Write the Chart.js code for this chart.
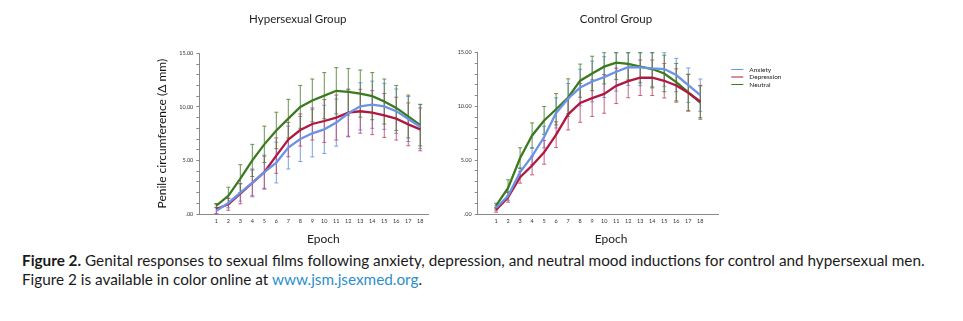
<!DOCTYPE html>
<html>
<head>
<meta charset="utf-8">
<title>Figure 2</title>
<script src="https://cdn.jsdelivr.net/npm/chart.js"></script>
<style>
  body { margin: 0; background: #fff; }
  #fig { position: relative; width: 963px; height: 321px; overflow: hidden; font-family: Lato, sans-serif; }
  #fig canvas { position: absolute; top: 0; }
  #chartHyper { left: 150px; }
  #chartControl { left: 440px; }
  .cap { position: absolute; left: 22px; font-size: 15.3px; line-height: 18px; white-space: nowrap; color: #1a1a1a; }
  .cap b { font-weight: 700; }
  .cap a { color: #2b8fcc; text-decoration: none; }
</style>
</head>
<body>
<div id="fig">
  <canvas id="chartHyper" width="290" height="250"></canvas>
  <canvas id="chartControl" width="352" height="250"></canvas>
  <div class="cap" style="top:251px"><b>Figure 2.</b> Genital responses to sexual films following anxiety, depression, and neutral mood inductions for control and hypersexual men.</div>
  <div class="cap" style="top:270px">Figure 2 is available in color online at <a href="#">www.jsm.jsexmed.org</a>.</div>
</div>
<script>
  // epochs
  var epochs = [1, 2, 3, 4, 5, 6, 7, 8, 9, 10, 11, 12, 13, 14, 15, 16, 17, 18];
  var yTickLabels = { 0: ".00", 5: "5.00", 10: "10.00", 15: "15.00" };

  // hypersexual group (mean and error bar half-width)
  var hyperAnxiety = [0.31, 1.03, 2.0, 2.9, 3.9, 4.8, 6.2, 7.0, 7.53, 7.9, 8.53, 9.4, 10.05, 10.2, 10.05, 9.6, 8.87, 8.15];
  var hyperAnxietyErr = [0.3, 0.45, 0.8, 1.3, 1.6, 1.9, 2.0, 2.1, 2.2, 2.25, 2.2, 2.2, 2.2, 2.2, 2.15, 2.07, 2.1, 2.05];
  var hyperDepression = [0.47, 0.9, 1.9, 2.9, 3.9, 5.45, 6.94, 7.84, 8.4, 8.68, 9.0, 9.46, 9.59, 9.46, 9.2, 8.9, 8.37, 7.9];
  var hyperDepressionErr = [0.45, 0.55, 0.95, 1.2, 1.5, 1.65, 1.6, 1.5, 1.5, 2.0, 2.1, 2.2, 2.05, 2.05, 2.05, 2.0, 2.0, 2.0];
  var hyperNeutral = [0.78, 1.7, 3.3, 5.0, 6.5, 7.8, 8.9, 10.0, 10.6, 11.05, 11.5, 11.4, 11.24, 11.0, 10.5, 9.9, 9.1, 8.3];
  var hyperNeutralErr = [0.2, 0.8, 1.3, 1.5, 1.7, 1.7, 1.8, 2.0, 2.0, 2.15, 2.16, 2.17, 2.2, 2.2, 2.1, 2.1, 2.0, 1.94];

  // control group
  var ctrlAnxiety = [0.56, 1.68, 3.89, 5.38, 7.16, 9.4, 10.74, 11.76, 12.32, 12.73, 13.23, 13.66, 13.63, 13.54, 13.48, 12.92, 11.98, 11.05];
  var ctrlAnxietyErr = [0.2, 0.4, 0.4, 0.78, 1.0, 1.4, 1.4, 1.7, 1.9, 1.9, 1.8, 1.7, 1.7, 1.7, 1.6, 1.55, 1.6, 1.5];
  var ctrlDepression = [0.37, 1.55, 3.42, 4.51, 5.73, 7.38, 9.27, 10.33, 10.77, 11.17, 11.92, 12.36, 12.67, 12.67, 12.39, 11.95, 11.27, 10.46];
  var ctrlDepressionErr = [0.2, 0.45, 0.55, 0.87, 1.1, 1.2, 1.45, 1.8, 1.7, 1.8, 1.65, 1.55, 1.65, 1.65, 1.6, 1.55, 1.7, 1.5];
  var ctrlNeutral = [0.78, 2.43, 5.2, 7.3, 8.7, 9.74, 10.83, 12.4, 13.07, 13.7, 14.07, 13.97, 13.7, 13.48, 13.07, 12.26, 11.3, 10.36];
  var ctrlNeutralErr = [0.22, 0.75, 0.96, 1.17, 1.3, 1.46, 1.74, 1.54, 1.6, 1.6, 1.57, 1.5, 1.5, 1.75, 1.7, 1.74, 1.7, 1.55];

  var colors = {
    Anxiety: { line: "#6a93e6", err: "rgba(110,150,230,0.9)" },
    Depression: { line: "#b01842", err: "rgba(195,70,110,0.85)" },
    Neutral: { line: "#3b7a1e", err: "rgba(80,130,50,0.85)" }
  };

  function serie(label, vals, errs) {
    return {
      label: label,
      data: epochs.map(function (e, i) { return { x: e, y: vals[i] }; }),
      errors: errs,
      borderColor: colors[label].line,
      backgroundColor: colors[label].line,
      errorColor: colors[label].err,
      borderWidth: 2.3,
      pointRadius: 0,
      tension: 0
    };
  }

  // error bars, drawn through the chart scales
  var errorBars = {
    id: "errorBars",
    beforeDatasetsDraw: function (chart) {
      var ctx = chart.ctx, xs = chart.scales.x, ys = chart.scales.y;
      ctx.save();
      ctx.lineWidth = 1;
      chart.data.datasets.forEach(function (ds) {
        ctx.strokeStyle = ds.errorColor;
        ds.data.forEach(function (p, i) {
          var e = ds.errors[i];
          var x = xs.getPixelForValue(p.x);
          var y1 = ys.getPixelForValue(Math.min(p.y + e, ys.max));
          var y2 = ys.getPixelForValue(Math.max(p.y - e, ys.min));
          ctx.beginPath();
          ctx.moveTo(x, y1); ctx.lineTo(x, y2);
          ctx.moveTo(x - 2, y1); ctx.lineTo(x + 2, y1);
          ctx.moveTo(x - 2, y2); ctx.lineTo(x + 2, y2);
          ctx.stroke();
        });
      });
      ctx.restore();
    }
  };

  // group title, x axis title and (optionally) legend
  var extraText = {
    id: "extraText",
    afterDraw: function (chart, args, opts) {
      var ctx = chart.ctx, a = chart.chartArea;
      var mid = (a.left + a.right) / 2;
      ctx.save();
      ctx.fillStyle = "#222";
      ctx.textAlign = "center";
      ctx.textBaseline = "middle";
      ctx.font = "11.5px Lato";
      ctx.fillText(opts.title, mid + opts.titleShift, 19);
      ctx.font = "12px Lato";
      ctx.fillText("Epoch", mid + opts.epochShift, a.bottom + 25);
      if (opts.legend) {
        ctx.textAlign = "left";
        ctx.font = "6.5px Lato";
        chart.data.datasets.forEach(function (ds, i) {
          var y = 69.5 + i * 7.5;
          ctx.strokeStyle = ds.borderColor;
          ctx.lineWidth = 1;
          ctx.beginPath();
          ctx.moveTo(a.right + 13, y); ctx.lineTo(a.right + 25, y);
          ctx.stroke();
          ctx.fillText(ds.label, a.right + 31, y);
        });
      }
      ctx.restore();
    }
  };

  function makeChart(id, sets, xMin, xMax, yWidth, pad, yTitle, textOpts) {
    return new Chart(document.getElementById(id), {
      type: "line",
      data: { datasets: sets },
      plugins: [errorBars, extraText],
      options: {
        responsive: false,
        animation: false,
        layout: { padding: pad },
        plugins: {
          legend: { display: false },
          tooltip: { enabled: false },
          extraText: textOpts
        },
        scales: {
          x: {
            type: "linear",
            min: xMin,
            max: xMax,
            afterBuildTicks: function (scale) {
              scale.ticks = epochs.map(function (e) { return { value: e }; });
            },
            afterFit: function (scale) { scale.height = 16; },
            grid: { display: false, drawTicks: false },
            border: { display: true, color: "#8a8a8a", width: 1 },
            ticks: {
              autoSkip: false, maxRotation: 0, padding: 3.5,
              color: "#333", font: { size: 5.5, family: "Lato" },
              callback: function (v) { return String(v); }
            }
          },
          y: {
            min: 0,
            max: 15,
            afterFit: function (scale) { scale.width = yWidth; },
            grid: { display: true, drawOnChartArea: false, drawTicks: true, tickLength: 3, color: "#8a8a8a" },
            border: { display: true, color: "#8a8a8a", width: 1 },
            ticks: {
              stepSize: 1, autoSkip: false, padding: 3,
              color: "#333", font: { size: 5.5, family: "Lato" },
              callback: function (v) { return yTickLabels[v] || ""; }
            },
            title: {
              display: !!yTitle, text: yTitle || "",
              color: "#111", font: { size: 12, family: "Lato" },
              padding: { top: 4.5, bottom: 0 }
            }
          }
        }
      }
    });
  }

  makeChart("chartHyper", [
    serie("Anxiety", hyperAnxiety, hyperAnxietyErr),
    serie("Depression", hyperDepression, hyperDepressionErr),
    serie("Neutral", hyperNeutral, hyperNeutralErr)
  ], -0.42, 18.67, 49.3, { top: 53.3, right: 11.7, bottom: 20, left: 0 },
    "Penile circumference (Δ mm)",
    { title: "Hypersexual Group", titleShift: -16, epochShift: 9.5, legend: false });

  makeChart("chartControl", [
    serie("Anxiety", ctrlAnxiety, ctrlAnxietyErr),
    serie("Depression", ctrlDepression, ctrlDepressionErr),
    serie("Neutral", ctrlNeutral, ctrlNeutralErr)
  ], -0.53, 19.5, 37.7, { top: 52.7, right: 73.7, bottom: 20, left: 0 },
    null,
    { title: "Control Group", titleShift: 18, epochShift: 13, legend: true });
</script>
</body>
</html>
